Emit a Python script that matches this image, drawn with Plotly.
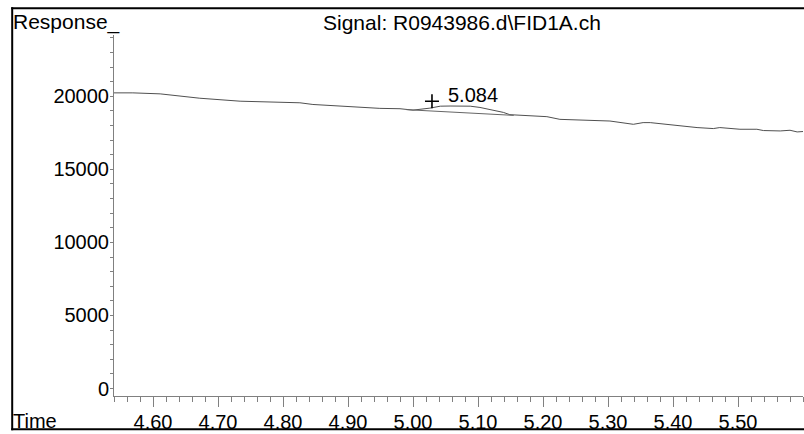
import plotly.graph_objects as go

# ---- data ----
time = [4.540, 4.569, 4.611, 4.642, 4.672, 4.734, 4.795, 4.826, 4.846, 4.903,
        4.949, 4.980, 5.000, 5.026, 5.042, 5.057, 5.075, 5.088, 5.103, 5.123,
        5.139, 5.149, 5.180, 5.206, 5.226, 5.257, 5.288, 5.303, 5.339, 5.354,
        5.365, 5.391, 5.437, 5.462, 5.472, 5.503, 5.529, 5.539, 5.565, 5.580,
        5.591, 5.600]
response = [20231, 20231, 20163, 20000, 19864, 19661, 19593, 19552, 19437, 19281,
            19170, 19145, 19050, 19186, 19320, 19330, 19340, 19320, 19233, 19050,
            18894, 18738, 18670, 18602, 18419, 18372, 18304, 18304, 18080, 18195,
            18195, 18060, 17856, 17788, 17856, 17741, 17741, 17653, 17626, 17673,
            17558, 17585]

baseline_time = [4.990, 5.155]
baseline_resp = [19080, 18690]

peak_label = "5.084"
peak_mark_time = [5.0292]
peak_mark_resp = [19660]
peak_label_time = 5.050
peak_label_resp = 20115

x_tickvals = [4.60, 4.70, 4.80, 4.90, 5.00, 5.10, 5.20, 5.30, 5.40, 5.50]
x_ticktext = ["4.60", "4.70", "4.80", "4.90", "5.00", "5.10", "5.20", "5.30", "5.40", "5.50"]
y_tickvals = [0, 5000, 10000, 15000, 20000]
y_ticktext = ["0", "5000", "10000", "15000", "20000"]

title_text = "Signal: R0943986.d\\FID1A.ch"
y_label = "Response_"
x_label = "Time"

FONT = "Arial, Liberation Sans, sans-serif"
AXIS_GRAY = "#808080"

fig = go.Figure()
fig.add_trace(go.Scatter(x=time, y=response, mode="lines",
                         line=dict(color="#505050", width=1), hoverinfo="skip",
                         showlegend=False))
fig.add_trace(go.Scatter(x=baseline_time, y=baseline_resp, mode="lines",
                         line=dict(color="#666666", width=1), hoverinfo="skip",
                         showlegend=False))
fig.add_trace(go.Scatter(x=peak_mark_time, y=peak_mark_resp, mode="markers",
                         marker=dict(symbol="cross-thin", size=10,
                                     line=dict(color="black", width=1.6)),
                         hoverinfo="skip", showlegend=False))

fig.add_annotation(x=peak_label_time, y=peak_label_resp, xref="x", yref="y",
                   text=peak_label, showarrow=False, xanchor="left", yanchor="middle",
                   font=dict(family=FONT, size=20, color="black"))

W, H = 804, 434
L, R, T, B = 114, 1, 35, 35
pw, ph = W - L - R, H - T - B


def px(xp):
    return (xp - L) / pw


def py(yp):
    return (H - B - yp) / ph


fig.add_annotation(x=px(461.5), y=py(22), xref="paper", yref="paper", text=title_text,
                   showarrow=False, xanchor="center", yanchor="middle",
                   font=dict(family=FONT, size=21, color="black"))
fig.add_annotation(x=px(11), y=py(22), xref="paper", yref="paper", text=y_label,
                   showarrow=False, xanchor="left", yanchor="middle",
                   font=dict(family=FONT, size=21, color="black"))
fig.add_annotation(x=px(11), y=py(424), xref="paper", yref="paper", text=x_label,
                   showarrow=False, xanchor="left", yanchor="middle",
                   font=dict(family=FONT, size=20, color="black"))

# outer frame (left, top, bottom)
frame = dict(color="black", width=2)
fig.add_shape(type="line", xref="paper", yref="paper", x0=px(12.2), x1=px(12.2),
              y0=py(433.5), y1=py(7), line=frame)
fig.add_shape(type="line", xref="paper", yref="paper", x0=px(11.2), x1=px(806),
              y0=py(8), y1=py(8), line=frame)
fig.add_shape(type="line", xref="paper", yref="paper", x0=px(11.2), x1=px(806),
              y0=py(432.5), y1=py(432.5), line=frame)

fig.update_xaxes(range=[4.54, 5.60], showline=True, linecolor=AXIS_GRAY, linewidth=1,
                 showgrid=False, zeroline=False, ticks="outside", ticklen=10,
                 tickcolor=AXIS_GRAY, tickwidth=1, tickvals=x_tickvals, ticktext=x_ticktext,
                 tickfont=dict(family=FONT, size=20, color="black"),
                 ticklabelstandoff=-2,
                 minor=dict(ticks="outside", dtick=0.02, tick0=4.60, ticklen=5,
                            tickcolor=AXIS_GRAY, tickwidth=1, showgrid=False))
fig.update_yaxes(range=[-510, 24190], showline=True, linecolor=AXIS_GRAY, linewidth=1,
                 showgrid=False, zeroline=False, ticks="outside", ticklen=3,
                 tickcolor=AXIS_GRAY, tickwidth=1, tickvals=y_tickvals, ticktext=y_ticktext,
                 tickfont=dict(family=FONT, size=20, color="black"),
                 ticklabelstandoff=-3,
                 minor=dict(ticks="outside", dtick=1000, tick0=0, ticklen=3,
                            tickcolor=AXIS_GRAY, tickwidth=1, showgrid=False))

fig.update_layout(width=W, height=H, margin=dict(l=L, r=R, t=T, b=B),
                  paper_bgcolor="white", plot_bgcolor="white", showlegend=False)

fig.write_html("out.html")
